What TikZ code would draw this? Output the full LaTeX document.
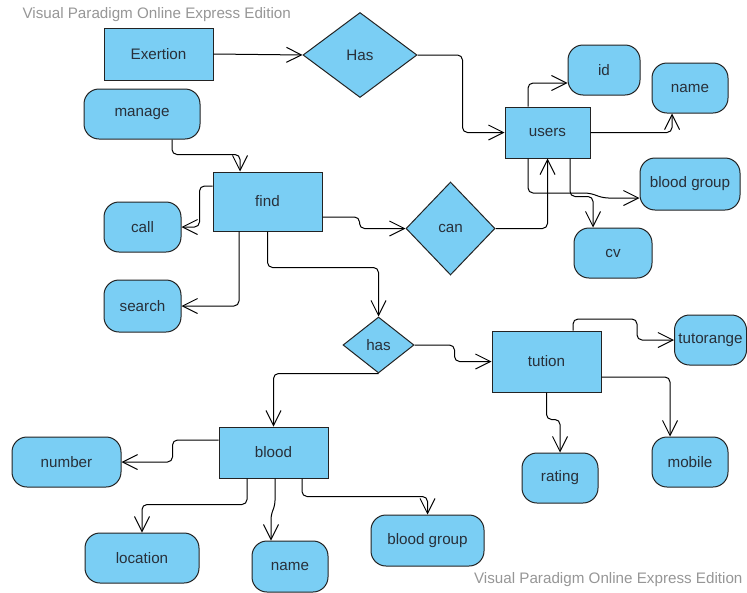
\documentclass[tikz,border=0pt]{standalone}
\usepackage{fontspec}
\setmainfont{Liberation Sans}
\usetikzlibrary{shapes.geometric,arrows.meta,calc}
\definecolor{erfill}{RGB}{122,206,244}
\definecolor{erline}{RGB}{35,35,35}
\definecolor{ertext}{RGB}{40,48,58}
\definecolor{wmark}{RGB}{150,150,150}
\begin{document}
\begin{tikzpicture}[x=1pt,y=-1pt,
        every node/.style={font=\fontsize{15.2}{18}\selectfont,text=ertext},
        entity/.style={draw=erline,fill=erfill,line width=1pt,inner sep=2pt},
        attr/.style={draw=erline,fill=erfill,line width=1pt,rounded corners=15pt,inner sep=2pt},
        rel/.style={draw=erline,fill=erfill,line width=1pt,diamond,inner sep=0pt},
        link/.style={draw=black,line width=1pt,rounded corners=5pt,-{Straight Barb[length=15pt,width=15pt,line width=1pt]}},
        wm/.style={text=wmark}]
    \useasboundingbox (0,0) rectangle (747,592);
    \node[wm,anchor=west] (wmtop) at (19,15) {Visual Paradigm Online Express Edition};
    \node[wm,anchor=east] (wmbot) at (746,580) {Visual Paradigm Online Express Edition};
    \node[entity,minimum width=109,minimum height=52] (exertion) at (158.5,54) {Exertion};
    \node[rel,minimum width=114,minimum height=85] (has1) at (360,55) {Has};
    \node[attr,minimum width=116,minimum height=50] (manage) at (142,114) {manage};
    \node[entity,minimum width=109,minimum height=59] (find) at (267.5,201.5) {find};
    \node[attr,minimum width=77,minimum height=50] (call) at (142.5,227) {call};
    \node[attr,minimum width=77,minimum height=52] (search) at (142.5,306) {search};
    \node[rel,minimum width=89,minimum height=93] (can) at (450.5,228.5) {can};
    \node[entity,minimum width=85,minimum height=51] (users) at (547.5,132.5) {users};
    \node[attr,minimum width=72,minimum height=50] (id) at (604,70) {id};
    \node[attr,minimum width=76,minimum height=50] (name1) at (690,88) {name};
    \node[attr,minimum width=100,minimum height=52] (bg1) at (690,184) {blood group};
    \node[attr,minimum width=78,minimum height=50] (cv) at (613,253) {cv};
    \node[rel,minimum width=71,minimum height=56] (has2) at (378.5,345) {has};
    \node[entity,minimum width=109,minimum height=61] (tution) at (546.5,361.5) {tution};
    \node[attr,minimum width=72,minimum height=50] (tutorange) at (710.5,340) {tutorange};
    \node[attr,minimum width=76,minimum height=50] (rating) at (560,478) {rating};
    \node[attr,minimum width=76,minimum height=50] (mobile) at (690,462) {mobile};
    \node[entity,minimum width=109,minimum height=51] (blood) at (273.5,452.5) {blood};
    \node[attr,minimum width=109,minimum height=50] (number) at (66.5,462) {number};
    \node[attr,minimum width=114,minimum height=50] (location) at (142,558) {location};
    \node[attr,minimum width=76,minimum height=51] (name2) at (290,566.5) {name};
    \node[attr,minimum width=113,minimum height=51] (bg2) at (427.5,540.5) {blood group};

    \draw[link] (exertion.east) -- (has1.west);
    \draw[link] (has1.east) -| ($(users.west)+(-42,0)$) -- (users.west);
    \draw[link] ($(users.north)+(-19.5,0)$) |- ($(id.west)+(0,13)$);
    \draw[link] (users.east) -| ($(name1.south)+(-18,0)$);
    \draw[link] ($(users.south)+(-19.5,0)$) |- ($(bg1.west)+(-50,9)$) -- ($(bg1.west)+(-36,14)$) -- ($(bg1.west)+(0,14)$);
    \draw[link] ($(users.south)+(22.5,0)$) |- ($(cv.north)+(-20,-31)$) -- ($(cv.north)+(-20,0)$);
    \draw[link] (can.east) -| (users.south);
    \draw[link] ($(find.east)+(0,15.5)$) -| ($(can.west)+(-46,0)$) -- (can.west);
    \draw[link] ($(manage.south)+(30,0)$) |- ($(find.north)+(-27.5,-17)$) -- ($(find.north)+(-27.5,0)$);
    \draw[link] ($(find.west)+(0,-15.5)$) -| ($(call.east)+(18,0)$) -- (call.east);
    \draw[link] ($(find.south)+(-28.5,0)$) |- (search.east);
    \draw[link] (find.south) |- ($(has2.north)+(0,-49)$) -- (has2.north);
    \draw[link] (has2.south) -| (blood.north);
    \draw[link] (has2.east) -| ($(tution.west)+(-37,0)$) -- (tution.west);
    \draw[link] ($(tution.north)+(26.5,0)$) |- ($(tutorange.west)+(-37,-21)$) |- (tutorange.west);
    \draw[link] ($(tution.east)+(0,15.5)$) -| ($(mobile.north)+(-20,0)$);
    \draw[link] (tution.south) |- ($(rating.north)+(0,-33)$) -- (rating.north);
    \draw[link] ($(blood.west)+(0,-12.5)$) -| ($(number.east)+(51,0)$) -- (number.east);
    \draw[link] ($(blood.south)+(-26.5,0)$) |- ($(location.north)+(0,-28)$) -- (location.north);
    \draw[link] ($(blood.south)+(1.5,0)$) -- ($(blood.south)+(1.5,27)$) -- ($(name2.north)+(-19,-26)$) -- ($(name2.north)+(-19,0)$);
    \draw[link] ($(blood.south)+(28.5,0)$) |- ($(bg2.north)+(0,-18)$) -- (bg2.north);
\end{tikzpicture}
\end{document}
